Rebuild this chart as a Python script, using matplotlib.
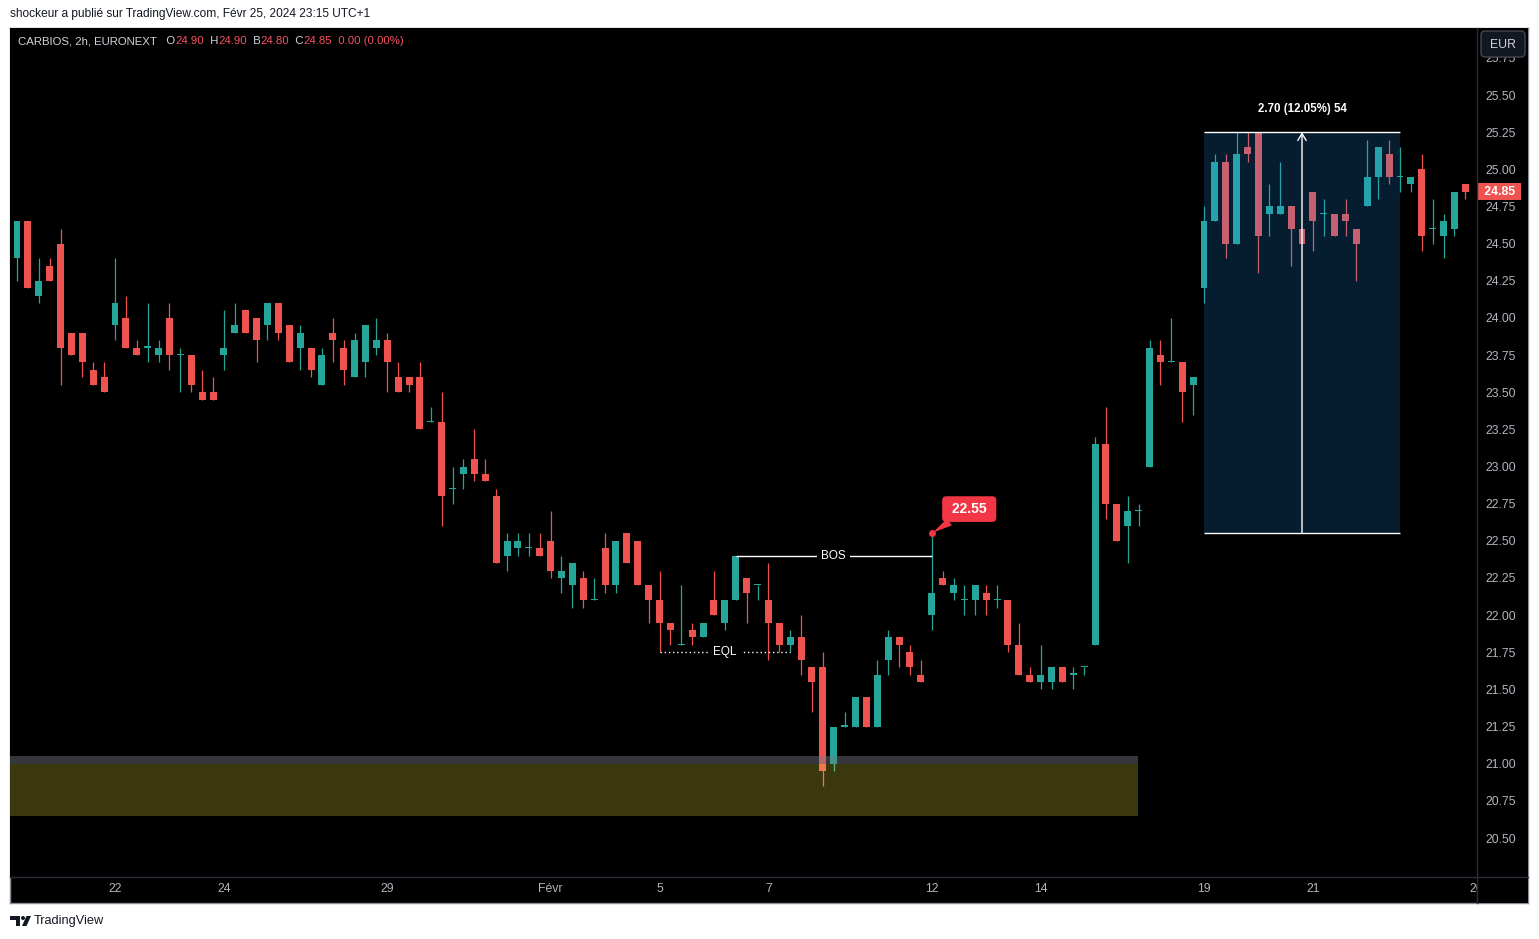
import numpy as np
import matplotlib
matplotlib.use("Agg")
import matplotlib.pyplot as plt
from matplotlib.patches import Rectangle, FancyBboxPatch, Polygon, Circle
from matplotlib.lines import Line2D
from matplotlib.transforms import Affine2D

plt.rcParams['font.family'] = ['Liberation Sans', 'DejaVu Sans']

# CARBIOS 2h candles, Jan 18 -> Feb 23 (5 bars per session)
opens = [24.40, 24.65, 24.15, 24.35, 24.50, 23.90, 23.90, 23.65, 23.60,
         23.95, 24.00, 23.80, 23.80, 23.75,
         24.00, 23.75, 23.75, 23.50, 23.50,
         23.75, 23.90, 24.05, 24.00, 23.95,
         24.10, 23.95, 23.80, 23.80, 23.55,
         23.90, 23.80, 23.60, 23.70, 23.80,
         23.85, 23.60, 23.60, 23.60, 23.30,
         23.30, 22.85, 22.95, 23.05, 22.95,
         22.80, 22.40, 22.45, 22.45, 22.45,
         22.50, 22.25, 22.20, 22.25, 22.10,
         22.45, 22.20, 22.55, 22.50, 22.20,
         22.10, 21.95, 21.80, 21.90, 21.85,
         22.10, 21.95, 22.10, 22.25, 22.20,
         22.10, 21.95, 21.80, 21.85, 21.65,
         21.65, 21.00, 21.25, 21.25, 21.45,
         21.25, 21.70, 21.85, 21.75, 21.60,
         22.00, 22.25, 22.15, 22.10, 22.10,
         22.15, 22.10, 22.10, 21.80, 21.60,
         21.55, 21.55, 21.65, 21.60, 21.65,
         21.80, 23.15, 22.75, 22.60, 22.70,
         23.00, 23.75, 23.70, 23.70, 23.55,
         24.20, 24.65, 25.05, 24.50, 25.15,
         25.25, 24.70, 24.70, 24.75, 24.60,
         24.85, 24.70, 24.70, 24.70, 24.60,
         24.75, 24.95, 25.10, 24.95, 24.90,
         25.00, 24.60, 24.55, 24.60, 24.90]
highs = [24.65, 24.65, 24.40, 24.40, 24.60, 23.90, 23.90, 23.70, 23.70,
         24.40, 24.15, 23.85, 24.10, 23.85,
         24.10, 23.80, 23.75, 23.65, 23.60,
         24.05, 24.10, 24.05, 24.00, 24.10,
         24.10, 23.95, 23.95, 23.80, 23.80,
         24.00, 23.85, 23.90, 23.95, 24.00,
         23.90, 23.70, 23.60, 23.70, 23.40,
         23.50, 23.00, 23.05, 23.25, 23.05,
         22.85, 22.55, 22.55, 22.55, 22.55,
         22.70, 22.40, 22.35, 22.30, 22.25,
         22.55, 22.50, 22.55, 22.50, 22.20,
         22.30, 21.95, 22.20, 21.95, 21.95,
         22.30, 22.10, 22.40, 22.25, 22.20,
         22.35, 21.95, 21.90, 22.00, 21.65,
         21.75, 21.25, 21.35, 21.45, 21.45,
         21.70, 21.90, 21.85, 21.80, 21.70,
         22.55, 22.30, 22.25, 22.20, 22.20,
         22.20, 22.20, 22.10, 21.95, 21.65,
         21.80, 21.65, 21.65, 21.65, 21.65,
         23.20, 23.40, 22.75, 22.80, 22.75,
         23.85, 23.85, 24.00, 23.70, 23.60,
         24.75, 25.10, 25.10, 25.25, 25.25,
         25.25, 24.90, 25.05, 24.75, 24.60,
         24.85, 24.80, 24.70, 24.80, 24.60,
         25.20, 25.15, 25.20, 25.15, 24.95,
         25.10, 24.80, 24.70, 24.85, 24.90]
lows = [24.25, 24.20, 24.10, 24.25, 23.55, 23.75, 23.60, 23.55, 23.50,
        23.85, 23.80, 23.75, 23.70, 23.70,
        23.65, 23.50, 23.50, 23.45, 23.45,
        23.65, 23.90, 23.90, 23.70, 23.85,
        23.85, 23.70, 23.65, 23.60, 23.55,
        23.70, 23.55, 23.60, 23.60, 23.75,
        23.50, 23.50, 23.50, 23.25, 23.30,
        22.60, 22.75, 22.85, 22.90, 22.90,
        22.35, 22.30, 22.40, 22.40, 22.40,
        22.25, 22.15, 22.05, 22.05, 22.10,
        22.15, 22.15, 22.35, 22.20, 21.95,
        21.75, 21.80, 21.80, 21.80, 21.85,
        22.00, 21.90, 22.10, 21.95, 22.10,
        21.70, 21.75, 21.75, 21.60, 21.35,
        20.85, 20.95, 21.25, 21.25, 21.25,
        21.25, 21.60, 21.65, 21.60, 21.55,
        21.90, 22.20, 22.10, 22.00, 22.00,
        22.00, 22.05, 21.75, 21.60, 21.55,
        21.50, 21.50, 21.55, 21.50, 21.60,
        21.80, 22.65, 22.50, 22.35, 22.60,
        23.00, 23.55, 23.70, 23.30, 23.35,
        24.10, 24.65, 24.40, 24.50, 25.05,
        24.30, 24.55, 24.70, 24.35, 24.50,
        24.45, 24.55, 24.55, 24.55, 24.25,
        24.75, 24.80, 24.90, 24.85, 24.85,
        24.45, 24.50, 24.40, 24.55, 24.80]
closes = [24.65, 24.20, 24.25, 24.25, 23.80, 23.75, 23.70, 23.55, 23.50,
          24.10, 23.80, 23.75, 23.80, 23.80,
          23.75, 23.75, 23.55, 23.45, 23.45,
          23.80, 23.95, 23.90, 23.85, 24.10,
          23.90, 23.70, 23.90, 23.65, 23.75,
          23.85, 23.65, 23.85, 23.95, 23.85,
          23.70, 23.50, 23.55, 23.25, 23.30,
          22.80, 22.85, 23.00, 22.95, 22.90,
          22.35, 22.50, 22.50, 22.45, 22.40,
          22.30, 22.30, 22.35, 22.10, 22.10,
          22.20, 22.50, 22.35, 22.20, 22.10,
          21.95, 21.90, 21.80, 21.85, 21.95,
          22.00, 22.10, 22.40, 22.15, 22.20,
          21.95, 21.80, 21.85, 21.70, 21.55,
          20.95, 21.25, 21.25, 21.45, 21.25,
          21.60, 21.85, 21.80, 21.65, 21.55,
          22.15, 22.20, 22.20, 22.10, 22.20,
          22.10, 22.10, 21.80, 21.60, 21.55,
          21.60, 21.65, 21.55, 21.60, 21.65,
          23.15, 22.75, 22.50, 22.70, 22.70,
          23.80, 23.70, 23.70, 23.50, 23.60,
          24.65, 25.05, 24.50, 25.10, 25.10,
          24.55, 24.75, 24.75, 24.60, 24.50,
          24.65, 24.70, 24.55, 24.65, 24.50,
          24.95, 25.15, 24.95, 24.95, 24.95,
          24.55, 24.60, 24.65, 24.85, 24.85]

day_ticks = [9, 19, 34, 49, 59, 69, 84, 94, 109, 119, 134]
day_labels = ['22', '24', '29', 'Févr', '5', '7', '12', '14', '19', '21', '26']
price_ticks = np.arange(20.50, 25.76, 0.25)

# drawings on the chart
bos_start, bos_end = 66, 84
eql_start, eql_end = 59, 71
zone_low, zone_high, zone_cap, zone_end = 20.65, 21.00, 21.05, 102.9
rng_start, rng_end = 109, 127
rng_low, rng_high = 22.55, 25.25
rng_text = "2.70 (12.05%) 54"
label_bar = 84

UP = '#26a69a'
DOWN = '#ef5350'
LABEL_RED = '#f23645'
AXIS_TXT = '#b2b5be'
SEP = '#2a2e39'

W, H = 1539, 939
fig = plt.figure(figsize=(W / 100, H / 100), dpi=100, facecolor='white')
PX = Affine2D().scale(1, -1).translate(0, H)   # pixels measured from top-left


def box(x0, y0, x1, y1):
    return [x0 / W, 1 - y1 / H, (x1 - x0) / W, (y1 - y0) / H]


frame = fig.add_axes(box(10, 28, 1528, 903), zorder=-1)
frame.set_facecolor('black')
frame.set_xticks([])
frame.set_yticks([])
for s in frame.spines.values():
    s.set_color('#8a8e99')
    s.set_linewidth(1)

ax = fig.add_axes(box(10, 28, 1477, 877), zorder=0)
ax.set_facecolor('black')
for s in ax.spines.values():
    s.set_visible(False)
ax.set_xlim(-0.643, 134.07)
ax.set_ylim(20.2376, 25.951)
ax.set_yticks([])
ax.set_xticks(day_ticks, day_labels)
ax.tick_params(axis='x', length=0, pad=4.5, labelsize=8.8, colors=AXIS_TXT)

# candles
x = np.arange(len(opens))
o, h, l, c = (np.array(v) for v in (opens, highs, lows, closes))
col = np.where(c >= o, UP, DOWN)
ax.vlines(x, l, h, colors=col, lw=0.9, zorder=3)
ax.bar(x, np.maximum(np.abs(c - o), 0.008), bottom=np.minimum(o, c),
       width=0.64, color=col, lw=0, zorder=3)

# demand zone
x_left = ax.get_xlim()[0]
ax.add_patch(Rectangle((x_left, zone_low), zone_end - x_left, zone_high - zone_low,
                       fc='#ffeb3b', alpha=0.24, ec='none', zorder=4))
ax.add_patch(Rectangle((x_left, zone_high), zone_end - x_left, zone_cap - zone_high,
                       fc='#787b86', alpha=0.45, ec='none', zorder=4))

# price range tool
ax.add_patch(Rectangle((rng_start, rng_low), rng_end - rng_start, rng_high - rng_low,
                       fc='#2196f3', alpha=0.2, ec='none', zorder=5))
ax.hlines([rng_low, rng_high], rng_start, rng_end, colors='white', lw=1, zorder=6)
mid = (rng_start + rng_end) / 2
ax.annotate('', xy=(mid, rng_high), xytext=(mid, rng_low),
            arrowprops=dict(arrowstyle='->,head_length=0.5,head_width=0.3',
                            color='white', lw=1, shrinkA=0, shrinkB=0), zorder=6)
ax.annotate(rng_text, xy=(mid, rng_high), xytext=(0, 16.5), textcoords='offset points',
            ha='center', va='center', color='white', fontsize=8.3, fontweight='bold',
            zorder=7)

# BOS / EQL
bos_level = highs[bos_start]
ax.hlines(bos_level, bos_start, bos_end, colors='white', lw=1, zorder=6)
ax.text((bos_start + bos_end) / 2, bos_level, 'BOS', ha='center', va='center',
        color='white', fontsize=8.5, bbox=dict(fc='black', ec='none', pad=3), zorder=7)
eql_level = lows[eql_start]
ax.hlines(eql_level, eql_start, eql_end, colors='white', lw=1,
          linestyles=(0, (1, 2)), zorder=6)
ax.text((eql_start + eql_end) / 2, eql_level, 'EQL', ha='center', va='center',
        color='white', fontsize=8.5, bbox=dict(fc='black', ec='none', pad=3), zorder=7)

# high label
ax.plot(label_bar, highs[label_bar], 'o', ms=4, color=LABEL_RED, zorder=8)
ax.annotate(f' {highs[label_bar]:.2f} ', xy=(label_bar, highs[label_bar]),
            xytext=(27, 17.5), textcoords='offset points', ha='center', va='center',
            color='white', fontsize=10, fontweight='bold',
            bbox=dict(boxstyle='round,pad=0.42,rounding_size=0.3', fc=LABEL_RED, ec='none'),
            arrowprops=dict(arrowstyle='wedge,tail_width=0.6,shrink_factor=0.5',
                            fc=LABEL_RED, ec='none', shrinkA=0, shrinkB=1),
            zorder=8)

# price scale panel
pax = fig.add_axes(box(1477, 28, 1528, 903), zorder=1)
pax.set_facecolor('black')
for s in pax.spines.values():
    s.set_visible(False)
pax.set_xlim(0, 1)
pax.set_ylim(20.0626, 25.951)
pax.set_xticks([])
pax.yaxis.tick_right()
pax.set_yticks(price_ticks, [f'{p:.2f}' for p in price_ticks])
pax.tick_params(axis='y', length=0, pad=-31, labelsize=8.8, colors=AXIS_TXT)

last = closes[-1]
pax.text(0.07, last, f' {last:.2f} ', transform=pax.get_yaxis_transform(),
         ha='left', va='center', color='white', fontsize=8.8, fontweight='bold',
         bbox=dict(boxstyle='square,pad=0.2', fc=DOWN, ec='none'), zorder=5)

fig.add_artist(FancyBboxPatch((1481, 31), 44, 26, boxstyle='round,pad=0,rounding_size=4',
                              fc='#131722', ec='#434651', lw=1, transform=PX, zorder=4))
fig.text(1503, 44.5, 'EUR', transform=PX, ha='center', va='center',
         color='#d1d4dc', fontsize=8.8, zorder=5)

fig.add_artist(Line2D([1477, 1477], [28, 903], transform=PX, color=SEP, lw=1, zorder=3))
fig.add_artist(Line2D([10, 1528], [877, 877], transform=PX, color=SEP, lw=1, zorder=3))

# headers
fig.text(10, 14, 'shockeur a publié sur TradingView.com, Févr 25, 2024 23:15 UTC+1',
         transform=PX, ha='left', va='center', color='#131722', fontsize=8.6)

VAL = '#f7525f'
LBL = '#d1d4dc'
pieces = [('   O', LBL), ('24.90', VAL), ('  H', LBL), ('24.90', VAL),
          ('  B', LBL), ('24.80', VAL), ('  C', LBL), ('24.85', VAL),
          ('  0.00 (0.00%)', VAL)]
t = ax.annotate('CARBIOS, 2h, EURONEXT', xy=(18, 41.5), xycoords=PX, ha='left',
                va='center', color=LBL, fontsize=8.2, annotation_clip=False, zorder=9)
for s, cc in pieces:
    t = ax.annotate(s, xy=(1, 0), xycoords=t, ha='left', va='bottom', color=cc,
                    fontsize=8.2, annotation_clip=False, zorder=9)

# TradingView mark
ink = '#131722'
fig.add_artist(Rectangle((10, 916), 10, 4, fc=ink, ec='none', transform=PX))
fig.add_artist(Rectangle((15.5, 916), 4.5, 10, fc=ink, ec='none', transform=PX))
fig.add_artist(Circle((23, 918), 2, fc=ink, ec='none', transform=PX))
fig.add_artist(Polygon([(26.5, 916), (31, 916), (26.5, 926), (22, 926)],
                       fc=ink, ec='none', transform=PX))
fig.text(34, 921, 'TradingView', transform=PX, ha='left', va='center',
         color=ink, fontsize=9.2)

fig.savefig('out.png', dpi=100, facecolor='white')
